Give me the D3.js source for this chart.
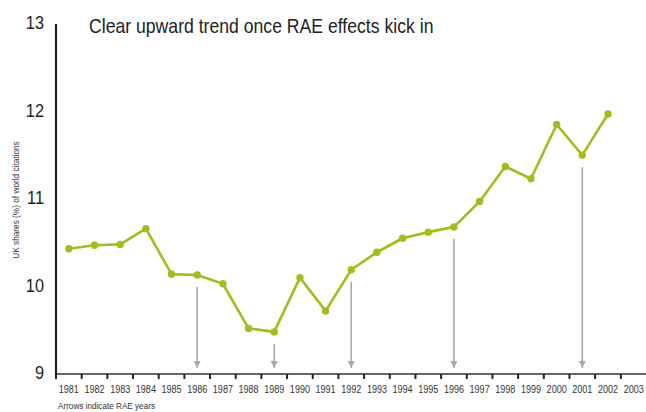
<!DOCTYPE html>
<html>
<head>
<meta charset="utf-8">
<script src="https://cdn.jsdelivr.net/npm/d3@7"></script>
<style>
  body { margin: 0; background: #fff; }
  svg { display: block; font-family: "Liberation Sans", Arial, sans-serif; }
</style>
</head>
<body>
<svg id="chart" width="646" height="412"></svg>
<script>
const years = d3.range(1981, 2004);
const shareYears = d3.range(1981, 2003);
const shares = [10.42, 10.46, 10.47, 10.65, 10.13, 10.12, 10.02, 9.51, 9.47, 10.09, 9.71,
  10.18, 10.38, 10.54, 10.61, 10.67, 10.96, 11.36, 11.22, 11.84, 11.49, 11.96];
const raeYears = [1986, 1989, 1992, 1996, 2001];
const yTicks = [9, 10, 11, 12, 13];

const svg = d3.select("#chart");
const green = "#a8ba1c";
const arrowGrey = "#a9aaad";
const squeeze = 0.86; // fake a condensed face

const x = d3.scaleBand().domain(years).range([56, 646.5]);
const y = d3.scaleLinear().domain([9, 13]).range([373, 23]);

const data = shareYears.map((yr, i) => ({ year: yr, value: shares[i] }));

svg.append("defs").append("marker")
  .attr("id", "head")
  .attr("viewBox", "0 0 10 10")
  .attr("refX", 10).attr("refY", 5)
  .attr("markerWidth", 9).attr("markerHeight", 7)
  .attr("markerUnits", "userSpaceOnUse")
  .attr("orient", "auto")
  .append("path")
  .attr("d", "M0,0L10,5L0,10Z")
  .attr("fill", arrowGrey);

// helper: condensed text at (tx, ty)
function ctext(g, tx, ty) {
  return g.append("text")
    .attr("transform", `translate(${tx},${ty}) scale(${squeeze},1)`);
}

// x axis
const xAxis = svg.append("g").attr("transform", "translate(0,374)");
xAxis.append("line").attr("x1", 56).attr("x2", 646).attr("stroke", "#333").attr("stroke-width", 1.6);
xAxis.selectAll(".tk")
  .data(years)
  .join("line")
  .attr("x1", d => x(d)).attr("x2", d => x(d))
  .attr("y1", 0).attr("y2", 5)
  .attr("stroke", "#222").attr("stroke-width", 2);
xAxis.selectAll(".lbl")
  .data(years)
  .join("text")
  .attr("transform", d => `translate(${x(d) + x.bandwidth() / 2},19) scale(${squeeze},1)`)
  .attr("text-anchor", "middle")
  .attr("font-size", 10.5)
  .attr("fill", "#333")
  .text(d => d);

// y axis
svg.append("line")
  .attr("x1", 56).attr("x2", 56)
  .attr("y1", y(13) + 1).attr("y2", 375)
  .attr("stroke", "#222").attr("stroke-width", 2.2);
svg.selectAll(".ylbl")
  .data(yTicks)
  .join("text")
  .attr("transform", d => `translate(44,${y(d) + 6}) scale(${squeeze},1)`)
  .attr("text-anchor", "end")
  .attr("font-size", 19)
  .attr("fill", "#222")
  .text(d => d);

svg.append("text")
  .attr("transform", "translate(19,200) rotate(-90) scale(0.92,1)")
  .attr("text-anchor", "middle")
  .attr("font-size", 9)
  .attr("fill", "#333")
  .text("UK shares (%) of world citations");

ctext(svg, 89, 33)
  .attr("font-size", 20.5)
  .attr("fill", "#222")
  .text("Clear upward trend once RAE effects kick in");

ctext(svg, 58, 409)
  .attr("font-size", 9.5)
  .attr("fill", "#333")
  .text("Arrows indicate RAE years");

// arrows
const cx = d => x(d) + x.bandwidth() / 2;
svg.selectAll(".arrow")
  .data(raeYears)
  .join("line")
  .attr("x1", d => cx(d)).attr("x2", d => cx(d))
  .attr("y1", d => y(shares[shareYears.indexOf(d)]) + 12)
  .attr("y2", 368)
  .attr("stroke", arrowGrey).attr("stroke-width", 1.6)
  .attr("marker-end", "url(#head)");

// line
svg.append("path")
  .datum(data)
  .attr("fill", "none")
  .attr("stroke", green)
  .attr("stroke-width", 2.6)
  .attr("stroke-linejoin", "round")
  .attr("d", d3.line().x(d => cx(d.year)).y(d => y(d.value)));

svg.selectAll(".pt")
  .data(data)
  .join("circle")
  .attr("cx", d => cx(d.year))
  .attr("cy", d => y(d.value))
  .attr("r", 3.7)
  .attr("fill", green);
</script>
</body>
</html>
